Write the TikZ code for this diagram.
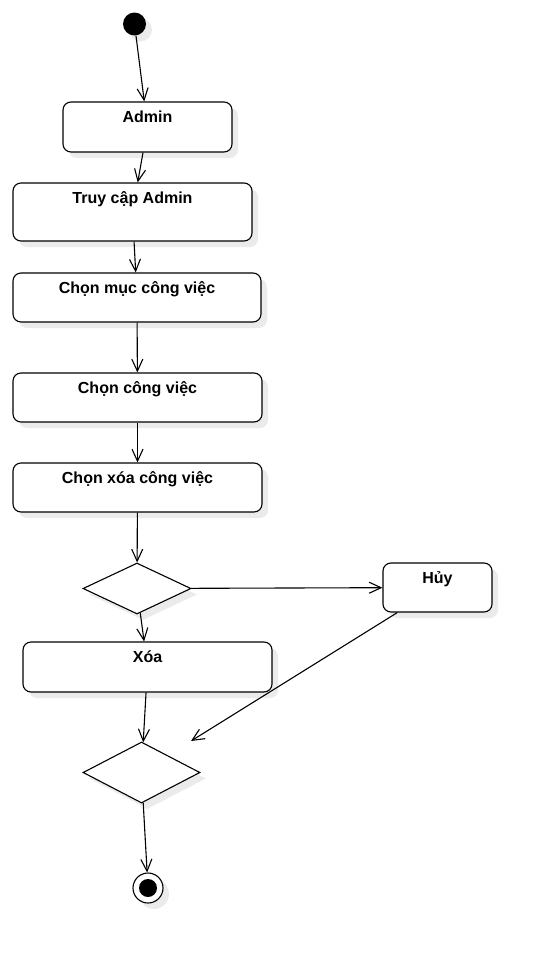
\documentclass[tikz,border=0pt]{standalone}
\usepackage{fontspec}
\setmainfont{Liberation Sans}
\usetikzlibrary{arrows.meta,shapes.geometric,shadows}
\tikzset{
  shd/.style={drop shadow={fill=black!8,opacity=1,shadow xshift=6pt,shadow yshift=-6pt}},
  act/.style={rectangle,rounded corners=8pt,draw=black,line width=1.1pt,fill=white,inner sep=0pt,shd},
  dec/.style={diamond,draw=black,line width=1.1pt,fill=white,inner sep=0pt,shd},
  ini/.style={circle,fill=black,inner sep=0pt,minimum size=23pt,shd},
  fin/.style={circle,draw=black,line width=1.1pt,fill=white,inner sep=0pt,minimum size=30pt,shd,
    path picture={\fill[black] (path picture bounding box.center) circle (9pt);}},
  lbl/.style={font=\bfseries\fontsize{16}{19}\selectfont,anchor=base,yshift=-21pt},
  arr/.style={-{Straight Barb[length=12pt,width=11pt]},line width=1.1pt},
}
\begin{document}
\begin{tikzpicture}[x=1pt,y=-1pt]
  \useasboundingbox (0,0) rectangle (542,953);
  % nodes
  \node[ini] (start) at (134.5,24) {};
  \node[act,minimum width=169pt,minimum height=50pt,label={[lbl]north:Admin}] (admin) at (147.5,127) {};
  \node[act,minimum width=239pt,minimum height=58pt,label={[lbl]north:Truy cập Admin}] (truy) at (132.5,212) {};
  \node[act,minimum width=248pt,minimum height=49pt,label={[lbl]north:Chọn mục công việc}] (muc) at (137,297.5) {};
  \node[act,minimum width=249pt,minimum height=49pt,label={[lbl]north:Chọn công việc}] (chon) at (137.5,397.5) {};
  \node[act,minimum width=249pt,minimum height=49pt,label={[lbl]north:Chọn xóa công việc}] (chonxoa) at (137.5,487.5) {};
  \node[dec,minimum width=108pt,minimum height=51pt] (d1) at (137,588.5) {};
  \node[act,minimum width=109pt,minimum height=49pt,label={[lbl]north:Hủy}] (huy) at (437.5,587.5) {};
  \node[act,minimum width=249pt,minimum height=50pt,label={[lbl]north:Xóa}] (xoa) at (147.5,667) {};
  \node[dec,minimum width=117pt,minimum height=61pt] (d2) at (141.5,772.5) {};
  \node[fin] (end) at (148,888) {};
  \coordinate (huyend) at (191,741);
  % flows
  \draw[arr] (start) -- (admin);
  \draw[arr] (admin) -- (truy);
  \draw[arr] (truy) -- (muc);
  \draw[arr] (muc) -- (chon);
  \draw[arr] (chon) -- (chonxoa);
  \draw[arr] (chonxoa) -- (d1);
  \draw[arr] (d1) -- (huy);
  \draw[arr] (d1) -- (xoa);
  \draw[arr] (xoa) -- (d2);
  \draw[arr] (huy) -- (huyend);
  \draw[arr] (d2) -- (end);
\end{tikzpicture}
\end{document}
